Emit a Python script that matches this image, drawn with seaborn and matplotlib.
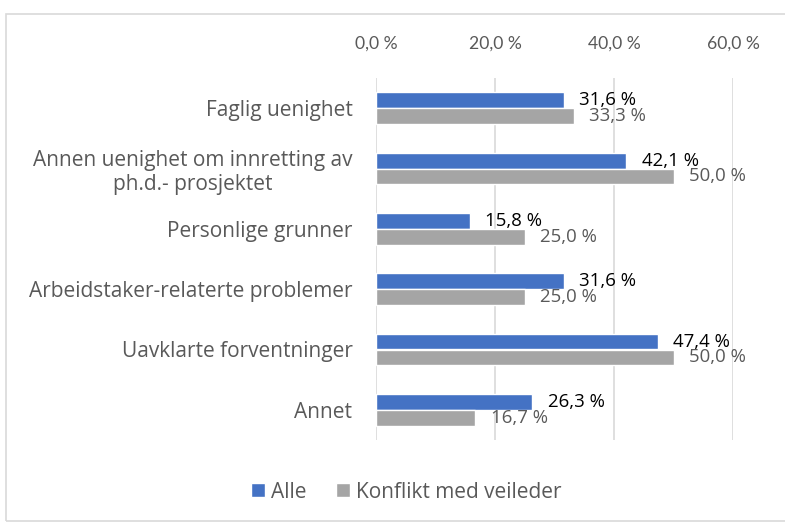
import matplotlib
matplotlib.use("Agg")
import matplotlib.pyplot as plt
import seaborn as sns
import pandas as pd
from matplotlib.patches import Rectangle

categories = ["Faglig uenighet",
              "Annen uenighet om innretting av\nph.d.- prosjektet",
              "Personlige grunner",
              "Arbeidstaker-relaterte problemer",
              "Uavklarte forventninger",
              "Annet"]
alle = [31.6, 42.1, 15.8, 31.6, 47.4, 26.3]
konflikt = [33.3, 50.0, 25.0, 25.0, 50.0, 16.7]
series = ["Alle", "Konflikt med veileder"]
xticks = [0, 20, 40, 60]
xticklabels = ["0,0 %", "20,0 %", "40,0 %", "60,0 %"]

df = pd.DataFrame({
    "kategori": categories * 2,
    "verdi": alle + konflikt,
    "serie": [series[0]] * len(categories) + [series[1]] * len(categories),
})

sns.set_style("white")
plt.rcParams["font.family"] = ["Open Sans", "DejaVu Sans"]

fig = plt.figure(figsize=(7.85, 5.23), dpi=100)
ax = fig.add_axes([376/785, 1-440/523, (733-376)/785, (440-78)/523])

sns.barplot(data=df, y="kategori", x="verdi", hue="serie", orient="h",
            palette=["#4472C4", "#A5A5A5"], width=0.53, ax=ax,
            saturation=1, legend=True)

ax.set_xlim(0, 60)
ax.xaxis.tick_top()
ax.set_xticks(xticks)
ax.set_xticklabels(xticklabels)
ax.tick_params(axis="x", length=0, pad=19, labelsize=12.6, labelcolor="#595959",
               labelfontfamily="Lato")
ax.tick_params(axis="y", length=0, pad=17, labelsize=15, labelcolor="#595959")
for lbl in ax.get_yticklabels():
    lbl.set_multialignment("center")
ax.set_xlabel("")
ax.set_ylabel("")
ax.grid(axis="x", color="#D9D9D9", linewidth=1.2)
ax.set_axisbelow(True)
for s in ax.spines.values():
    s.set_visible(False)

cols = ["#000000", "#595959"]
for cont, c in zip(ax.containers, cols):
    labels = [f"{v:.1f} %".replace(".", ",") for v in cont.datavalues]
    ax.bar_label(cont, labels=labels, padding=11, color=c, fontsize=13.4)

handles, labs = ax.get_legend_handles_labels()
ax.get_legend().remove()
fig.legend(handles, labs, loc="center", bbox_to_anchor=(406/785, 1-492/523),
           ncol=2, frameon=False, fontsize=15, handlelength=0.68, handleheight=0.68,
           handletextpad=0.3, columnspacing=1.4, labelcolor="#595959")

fig.patches.append(Rectangle((6/785, 0.004), 1.2, 1-14/523-0.004, transform=fig.transFigure,
                             fill=False, edgecolor="#D9D9D9", linewidth=1.2))

fig.savefig("out.png", dpi=100)
